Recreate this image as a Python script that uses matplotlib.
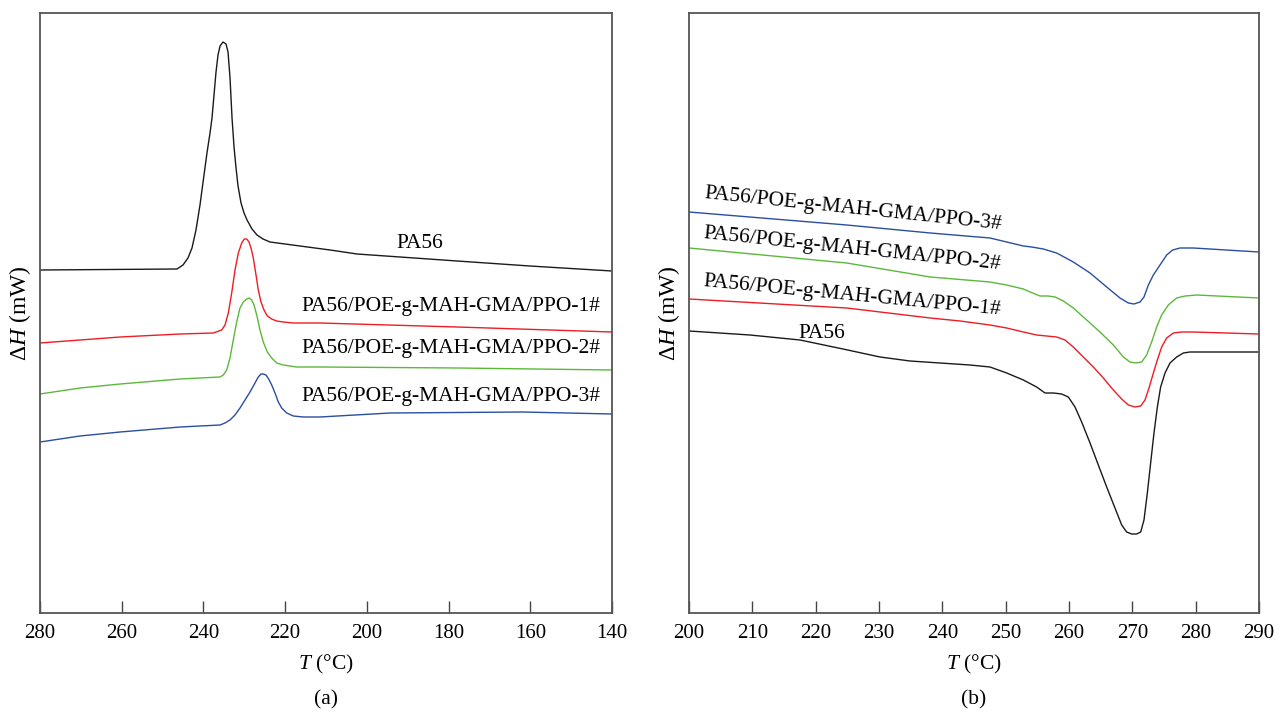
import matplotlib.pyplot as plt

plt.rcParams['font.family'] = ['Liberation Serif', 'DejaVu Serif']
plt.rcParams['mathtext.fontset'] = 'custom'
plt.rcParams['mathtext.rm'] = 'Liberation Serif'
plt.rcParams['mathtext.it'] = 'Liberation Serif:italic'

# (a) cooling curves, heat flow in arbitrary units
a_pa56_T = [280, 246.47, 245.0, 243.78, 242.8, 241.82, 240.84, 239.86, 239.13, 238.39, 237.9,
            237.41, 236.92, 236.43, 235.94, 235.21, 234.47, 233.98, 233.49, 233.0, 232.51,
            232.02, 231.53, 230.8, 230.06, 229.33, 228.11, 226.89, 225.42, 223.71, 220.04,
            216.36, 209.0, 202.4, 191.9, 177.9, 160.1, 140]
a_pa56_H = [343, 344, 348, 355, 365, 383, 408, 438, 460, 480, 495,
            518, 541, 558, 567, 571, 569, 561, 535, 495, 466,
            445, 427, 410, 400, 393, 384, 378, 374, 371, 369,
            367, 363, 359, 356, 352, 347, 342]

a_1_T = [280, 270.2, 260.4, 245.7, 237.58, 235.53, 234.72, 233.91, 233.08, 232.27, 231.46,
         230.63, 230.0, 229.41, 228.85, 228.36, 227.79, 227.13, 226.57, 225.91, 225.17,
         224.37, 223.29, 222.07, 220.45, 218.0, 211.47, 177.9, 140]
a_1_H = [270, 273, 276, 279, 280, 283, 288, 300, 320, 343, 360,
         370, 374, 374, 371, 365, 355, 338, 323, 311, 303,
         297, 294, 292, 291, 290, 290, 286, 281]

a_2_T = [280, 270.2, 260.4, 245.7, 235.94, 235.14, 234.3, 233.5, 232.69, 231.86, 231.05,
         230.24, 229.41, 228.77, 228.18, 227.62, 226.96, 226.15, 225.35, 224.37, 223.29,
         222.07, 220.45, 217.17, 211.47, 177.9, 140]
a_2_H = [219, 225, 229, 234, 236, 238, 243, 255, 273, 291, 305,
         311, 314, 315, 313, 308, 298, 283, 271, 261, 255,
         250, 248, 246, 246, 245, 243]

a_3_T = [280, 270.2, 260.4, 245.7, 235.94, 234.72, 233.5, 232.27, 231.05, 229.82, 228.6,
         227.38, 226.57, 225.91, 225.35, 224.69, 224.03, 223.29, 222.48, 221.67, 220.84,
         219.62, 218.0, 215.56, 211.47, 194.3, 161.8, 140]
a_3_H = [171, 177, 181, 186, 188, 190, 193, 198, 205, 213, 221,
         230, 236, 239, 239, 238, 234, 228, 220, 211, 205,
         200, 197, 196, 196, 200, 201, 199]

# (b) heating curves
b_pa56_T = [200, 209.63, 217.53, 224.32, 230.16, 234.89, 239.63, 244.37, 247.53, 250.16,
            252.79, 254.89, 256.21, 257.53, 258.84, 259.89, 260.95, 262.0, 263.32, 264.63,
            265.95, 267.26, 268.32, 269.1, 269.89, 270.68, 271.32, 271.84, 272.37, 272.89,
            273.42, 273.95, 274.47, 275.16, 275.95, 277.0, 278.05, 279.1, 280.16, 290]
b_pa56_H = [282, 278, 273, 264, 256, 252, 250, 248, 246, 240,
            233, 226, 220, 220, 219, 216, 206, 191, 170, 148,
            126, 105, 88, 81, 79, 79, 81, 93, 120, 150,
            180, 206, 226, 240, 250, 256, 260, 261, 261, 261]

b_1_T = [200, 224.9, 238.1, 242.8, 247.53, 250.16, 252.79, 254.89, 256.47, 258.05, 259.37,
         260.68, 262.26, 263.84, 265.42, 267.0, 268.32, 269.37, 270.42, 271.32, 272.0,
         272.68, 273.32, 273.95, 274.63, 275.42, 276.47, 277.79, 279.63, 290]
b_1_H = [314, 305, 295, 292, 288, 285, 281, 278, 277, 276, 273,
         266, 256, 246, 235, 223, 214, 208, 206, 207, 213,
         226, 240, 253, 266, 275, 280, 281, 281, 279]

b_2_T = [200, 224.9, 238.1, 247.53, 250.16, 252.79, 254.63, 255.42, 256.74, 257.79, 259.11,
         260.68, 262.79, 264.89, 267.0, 268.58, 269.63, 270.58, 271.47, 272.26, 273.05,
         273.84, 274.63, 275.68, 277.0, 278.32, 280.16, 290]
b_2_H = [365, 350, 336, 331, 328, 324, 319, 317, 317, 316, 312,
         305, 293, 281, 268, 256, 251, 250, 251, 258, 271,
         286, 298, 308, 315, 317, 318, 315]

b_3_T = [200, 224.9, 238.1, 247.53, 250.16, 252.79, 254.11, 255.95, 258.05, 260.68, 263.32,
         265.95, 268.05, 269.37, 270.26, 271.21, 271.84, 272.53, 273.32, 274.37, 275.42,
         276.37, 277.53, 279.63, 290]
b_3_H = [401, 388, 380, 375, 371, 367, 366, 364, 360, 351, 340,
         326, 315, 310, 309, 311, 316, 328, 338, 348, 358,
         363, 365, 365, 361]

names = ['PA56', 'PA56/POE-g-MAH-GMA/PPO-1#', 'PA56/POE-g-MAH-GMA/PPO-2#',
         'PA56/POE-g-MAH-GMA/PPO-3#']
colors = ['#1a1a1a', '#ee1c24', '#5cb83a', '#2a4ea0']

fig = plt.figure(figsize=(12.79, 7.16), dpi=100)
ax1 = fig.add_axes([40 / 1279, 103 / 716, 572 / 1279, 600 / 716])
ax2 = fig.add_axes([689 / 1279, 103 / 716, 570 / 1279, 600 / 716])

for T, H, c in zip([a_pa56_T, a_1_T, a_2_T, a_3_T], [a_pa56_H, a_1_H, a_2_H, a_3_H], colors):
    ax1.plot(T, H, color=c, lw=1.0)
for T, H, c in zip([b_pa56_T, b_1_T, b_2_T, b_3_T], [b_pa56_H, b_1_H, b_2_H, b_3_H], colors):
    ax2.plot(T, H, color=c, lw=1.0)

ax1.set_xlim(280, 140)
ax1.set_xticks(range(280, 139, -20))
ax2.set_xlim(200, 290)
ax2.set_xticks(range(200, 291, 10))

for ax in (ax1, ax2):
    ax.set_ylim(0, 600)
    ax.set_yticks([])
    ax.tick_params(axis='x', direction='in', length=9, width=1, color='#444444',
                   labelsize=15, pad=8)
    for s in ax.spines.values():
        s.set_color('#555555')
        s.set_linewidth(1.3)
    ax.set_xlabel(r'$T$ (°C)', fontsize=15.5, labelpad=7)
    ax.set_ylabel(r'$\Delta H$ (mW)', fontsize=17, labelpad=5)

fs = 15.5
# labels (a)
ax1.text(187.0, 370, names[0], fontsize=fs, ha='center', va='center')
ax1.text(179.4, 307, names[1], fontsize=fs, ha='center', va='center')
ax1.text(179.4, 264, names[2], fontsize=fs, ha='center', va='center')
ax1.text(179.4, 217, names[3], fontsize=fs, ha='center', va='center')

# labels (b)
ax2.text(221.0, 280, names[0], fontsize=fs, ha='center', va='center')
ax2.text(225.8, 317, names[1], fontsize=fs, ha='center', va='center', rotation=-5.5)
ax2.text(225.7, 364, names[2], fontsize=fs, ha='center', va='center', rotation=-6)
ax2.text(225.9, 404, names[3], fontsize=fs, ha='center', va='center', rotation=-6)

fig.text(326 / 1279, 1 - 700 / 716, '(a)', fontsize=fs, ha='center', va='center')
fig.text(974 / 1279, 1 - 700 / 716, '(b)', fontsize=fs, ha='center', va='center')

fig.savefig('out.png', dpi=100)
